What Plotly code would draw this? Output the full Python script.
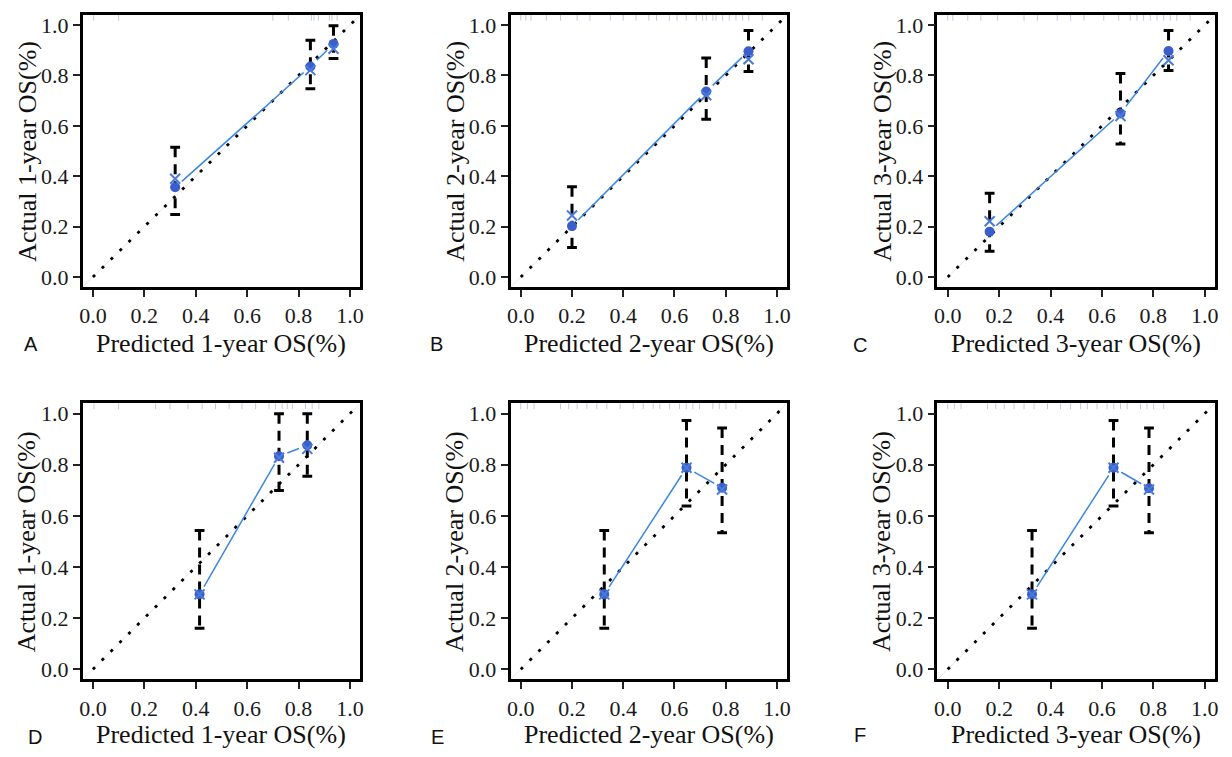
import math
import plotly.graph_objects as go

W, H = 1232, 757

# ---- calibration data: predicted vs actual OS, one block per panel ----
panel_letters = ["A", "B", "C", "D", "E", "F"]
horizons = ["1-year", "2-year", "3-year", "1-year", "2-year", "3-year"]

pred_A = [0.320, 0.846, 0.936]
obs_A = [0.356, 0.835, 0.925]
corr_A = [0.390, 0.821, 0.906]
lo_A = [0.248, 0.747, 0.867]
hi_A = [0.515, 0.939, 0.997]

pred_B = [0.200, 0.724, 0.889]
obs_B = [0.202, 0.736, 0.896]
corr_B = [0.244, 0.721, 0.864]
lo_B = [0.117, 0.626, 0.815]
hi_B = [0.358, 0.869, 0.978]

pred_C = [0.163, 0.672, 0.859]
obs_C = [0.180, 0.649, 0.897]
corr_C = [0.221, 0.639, 0.860]
lo_C = [0.102, 0.528, 0.819]
hi_C = [0.332, 0.808, 0.978]

pred_D = [0.415, 0.724, 0.834]
obs_D = [0.293, 0.833, 0.876]
corr_D = [0.293, 0.827, 0.862]
lo_D = [0.160, 0.699, 0.755]
hi_D = [0.543, 0.999, 0.999]

pred_E = [0.326, 0.647, 0.786]
obs_E = [0.293, 0.788, 0.710]
corr_E = [0.293, 0.788, 0.703]
lo_E = [0.160, 0.638, 0.534]
hi_E = [0.543, 0.973, 0.944]

pred_F = [0.328, 0.645, 0.783]
obs_F = [0.293, 0.788, 0.708]
corr_F = [0.293, 0.788, 0.703]
lo_F = [0.160, 0.638, 0.534]
hi_F = [0.543, 0.973, 0.944]

# distribution of predicted values (rug along the top edge)
rug_A = [0.003, 0.10, 0.70, 0.76, 0.85, 0.86, 0.877, 0.92, 0.93, 0.95]
rug_B = [0.0, 0.02, 0.04, 0.10, 0.155, 0.22, 0.27, 0.35, 0.40, 0.45, 0.50, 0.53,
         0.58, 0.61, 0.646, 0.685, 0.71, 0.724, 0.75, 0.762, 0.788, 0.814, 0.84,
         0.866, 0.89, 0.943]
rug_C = [0.0, 0.02, 0.078, 0.129, 0.194, 0.297, 0.349, 0.426, 0.478, 0.53, 0.607,
         0.665, 0.71, 0.736, 0.762, 0.788, 0.814, 0.84, 0.866, 0.891, 0.943]
rug_D = [0.004, 0.10, 0.244, 0.30, 0.37, 0.425, 0.477, 0.53, 0.58, 0.633, 0.685,
         0.71, 0.736, 0.756, 0.776, 0.827, 0.853, 0.879]
rug_E = [0.0, 0.026, 0.052, 0.155, 0.187, 0.22, 0.258, 0.297, 0.336, 0.388, 0.439,
         0.478, 0.517, 0.543, 0.581, 0.62, 0.646, 0.672, 0.698, 0.75, 0.775, 0.801,
         0.84]
rug_F = [0.0, 0.026, 0.052, 0.155, 0.187, 0.22, 0.258, 0.297, 0.336, 0.388, 0.439,
         0.478, 0.517, 0.543, 0.581, 0.62, 0.646, 0.672, 0.698, 0.75, 0.775, 0.801,
         0.84]

tick_vals = [0.0, 0.2, 0.4, 0.6, 0.8, 1.0]
tick_text = ["0.0", "0.2", "0.4", "0.6", "0.8", "1.0"]

panels = [
    (pred_A, obs_A, corr_A, lo_A, hi_A, rug_A),
    (pred_B, obs_B, corr_B, lo_B, hi_B, rug_B),
    (pred_C, obs_C, corr_C, lo_C, hi_C, rug_C),
    (pred_D, obs_D, corr_D, lo_D, hi_D, rug_D),
    (pred_E, obs_E, corr_E, lo_E, hi_E, rug_E),
    (pred_F, obs_F, corr_F, lo_F, hi_F, rug_F),
]

# ---- layout geometry (pixels) ----
col_px = [(80, 359), (510, 788), (939, 1218)]
row_px = [(13, 287), (404, 682)]
xtitle_off = [57, 55]
letter_pos = [(28, 344), (436, 344), (861, 345), (32, 740), (437, 740), (861, 738)]
AX_RANGE = [-0.04, 1.04]

SERIF = "Liberation Serif, Times New Roman, serif"
SANS = "Liberation Sans, Arial, sans-serif"
BLUE_PT = "#3a5fcd"
BLUE_X = "#4a7ada"
BLUE_LN = "#3b86e0"


def gapped_path(xs, ys, sx, sy, gap):
    """Connect consecutive points, leaving a gap around each point (type='b')."""
    gx, gy = [], []
    for i in range(len(xs) - 1):
        dx = (xs[i + 1] - xs[i]) * sx
        dy = (ys[i + 1] - ys[i]) * sy
        L = math.hypot(dx, dy)
        if L <= 2 * gap:
            continue
        f = gap / L
        gx += [xs[i] + (xs[i + 1] - xs[i]) * f, xs[i + 1] - (xs[i + 1] - xs[i]) * f, None]
        gy += [ys[i] + (ys[i + 1] - ys[i]) * f, ys[i + 1] - (ys[i + 1] - ys[i]) * f, None]
    return gx, gy


fig = go.Figure()
annotations = []
layout_axes = {}

for k, (pred, obs, corr, lo, hi, rug) in enumerate(panels):
    r, c = divmod(k, 3)
    x0, x1 = col_px[c]
    y0, y1 = row_px[r]
    n = k + 1
    xa = "x" if n == 1 else f"x{n}"
    ya = "y" if n == 1 else f"y{n}"
    sx = (x1 - x0) / (AX_RANGE[1] - AX_RANGE[0])
    sy = (y1 - y0) / (AX_RANGE[1] - AX_RANGE[0])

    axis_common = dict(
        range=AX_RANGE, showgrid=False, zeroline=False,
        showline=True, linewidth=2.5, linecolor="black", mirror=True,
        ticks="outside", ticklen=7, tickwidth=1.5, tickcolor="#222",
        tickvals=tick_vals, ticktext=tick_text,
        tickfont=dict(family=SERIF, size=22, color="#1a1a1a"),
    )
    layout_axes[f"xaxis{'' if n == 1 else n}"] = dict(
        axis_common, domain=[x0 / W, x1 / W], anchor=ya)
    layout_axes[f"yaxis{'' if n == 1 else n}"] = dict(
        axis_common, domain=[1 - y1 / H, 1 - y0 / H], anchor=xa)

    # faint reference line plus dotted ideal diagonal
    fig.add_trace(go.Scatter(x=[AX_RANGE[0], AX_RANGE[1]], y=[AX_RANGE[0], AX_RANGE[1]],
                             mode="lines", line=dict(color="#e4e9f1", width=1),
                             xaxis=xa, yaxis=ya, hoverinfo="skip"))
    fig.add_trace(go.Scatter(x=[0.0, 1.03], y=[0.0, 1.03], mode="lines",
                             line=dict(color="black", width=2.8, dash="3px,9.5px"),
                             xaxis=xa, yaxis=ya, hoverinfo="skip"))

    # rug of predicted values
    fig.add_trace(go.Scatter(x=rug, y=[1.031] * len(rug), mode="markers",
                             marker=dict(symbol="line-ns", size=5,
                                         line=dict(width=1, color="#c3cbdb")),
                             xaxis=xa, yaxis=ya, hoverinfo="skip"))

    # dashed confidence bars with caps
    for p, l, h in zip(pred, lo, hi):
        fig.add_trace(go.Scatter(x=[p, p], y=[h, l], mode="lines",
                                 line=dict(color="black", width=3, dash="10px,7px"),
                                 xaxis=xa, yaxis=ya, hoverinfo="skip"))
    fig.add_trace(go.Scatter(x=pred + pred, y=hi + lo, mode="markers",
                             marker=dict(symbol="line-ew", size=7,
                                         line=dict(width=3, color="black")),
                             xaxis=xa, yaxis=ya, hoverinfo="skip"))

    # observed line connecting the groups
    gx, gy = gapped_path(pred, obs, sx, sy, 9)
    fig.add_trace(go.Scatter(x=gx, y=gy, mode="lines",
                             line=dict(color=BLUE_LN, width=1.5),
                             xaxis=xa, yaxis=ya, hoverinfo="skip"))
    # observed points and bias-corrected estimates
    fig.add_trace(go.Scatter(x=pred, y=obs, mode="markers",
                             marker=dict(symbol="circle", size=10, color=BLUE_PT),
                             xaxis=xa, yaxis=ya))
    fig.add_trace(go.Scatter(x=pred, y=corr, mode="markers",
                             marker=dict(symbol="x-thin-open", size=10, color=BLUE_X,
                                         line=dict(width=2, color=BLUE_X)),
                             xaxis=xa, yaxis=ya))

    # axis titles and panel letter
    annotations.append(dict(
        text=f"Predicted {horizons[k]} OS(%)", xref="paper", yref="paper",
        x=(x0 + x1) / 2 / W, y=1 - (y1 + xtitle_off[r]) / H,
        xanchor="center", yanchor="middle", showarrow=False,
        font=dict(family=SERIF, size=26, color="#111")))
    annotations.append(dict(
        text=f"Actual {horizons[k]} OS(%)", xref="paper", yref="paper",
        x=(x0 - 56) / W, y=1 - (y0 + y1) / 2 / H, textangle=-90,
        xanchor="center", yanchor="middle", showarrow=False,
        font=dict(family=SERIF, size=26, color="#111")))
    lx, ly = letter_pos[k]
    annotations.append(dict(
        text=panel_letters[k], xref="paper", yref="paper",
        x=lx / W, y=1 - ly / H, xanchor="center", yanchor="middle",
        showarrow=False, font=dict(family=SANS, size=20, color="#111")))

fig.update_layout(
    width=W, height=H, margin=dict(l=0, r=0, t=0, b=0),
    paper_bgcolor="white", plot_bgcolor="white", showlegend=False,
    annotations=annotations, **layout_axes)

fig.write_html("out.html")
